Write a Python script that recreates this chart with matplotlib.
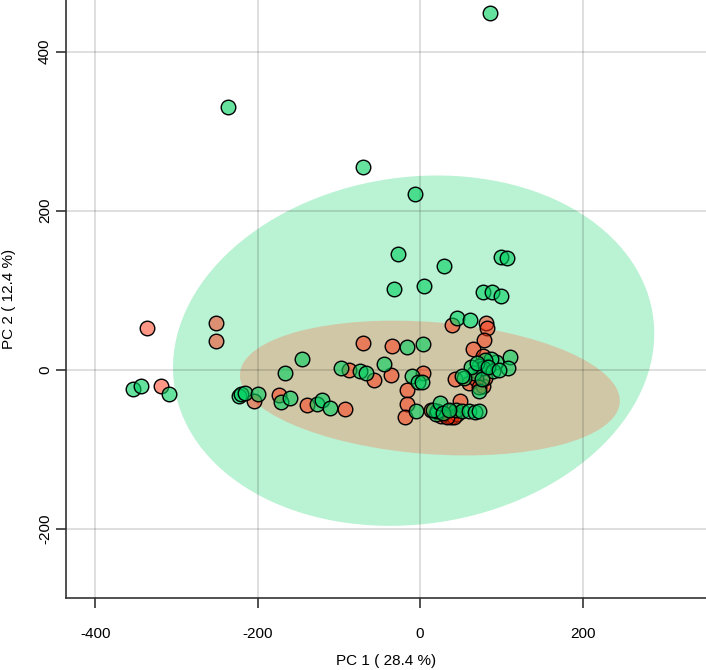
import numpy as np
import matplotlib.pyplot as plt
from matplotlib.patches import Ellipse
from matplotlib.colors import to_rgba

plt.rcParams['font.family'] = ['Liberation Sans', 'DejaVu Sans']
plt.rcParams['axes.unicode_minus'] = False

# PCA scores, group 1 (green)
green_x = [86, -237, -70, -6, -27, 29, -32, 5, 100, 107, 78, 89, 100,
           -353, -344, -309,
           -223, -220, -216, -199, -171, -160, -166, -145,
           -127, -121, -111,
           -98, -74, -67, -44, -16, 3,
           -10, -3, 2, -5,
           45, 62,
           111, 108, 94, 87, 80, 73, 78, 90, 66, 63, 54, 51, 73, 76, 70, 84, 97,
           19, 21, 16, 24, 44, 52, 60, 67, 73, 28, 35]
green_y = [449, 330, 255, 221, 146, 131, 102, 105, 142, 141, 98, 98, 93,
           -24, -20, -31,
           -33, -31, -29, -30, -40, -36, -4, 13,
           -43, -38, -48,
           2, -2, -4, 7, 29, 32,
           -8, -16, -15, -52,
           65, 62,
           16, 2, 10, 13, 12, 5, 2, -2, -4, 4, -10, -8, -27, -12, 8, 4, 0,
           -56, -52, -50, -42, -51, -52, -52, -53, -52, -54, -50]

# group 2 (red)
red_x = [-336, -319, -251, -251, -204, -174, -139, -92,
         -88, -57, -70, -36, -35, 4, -16, -16, -19, 14,
         39, 81, 82, 79, 65,
         43, 60, 77, 80, 78, 82, 69, 72,
         30, 36, 41, 34, 38, 45, 49, 26, 42, 33]
red_y = [52, -21, 59, 36, -39, -32, -44, -49,
         0, -13, 34, -7, 30, -4, -25, -43, -59, -50,
         56, 59, 53, 37, 26,
         -12, -17, -20, -10, 17, 5, -12, -22,
         -56, -58, -54, -52, -60, -56, -39, -58, -60, -60]

# confidence ellipses: centre, full width, full height, angle
green_ell = (-8, 24, 596, 436, 9)
red_ell = (12, -23, 469, 166, -4.5)

fig = plt.figure(figsize=(7.06, 6.70), dpi=100)
ax = fig.add_axes([0.0935, 0.1075, 0.9065, 0.8925])

ax.add_patch(Ellipse(green_ell[:2], green_ell[2], green_ell[3], angle=green_ell[4],
                     facecolor='#00d060', alpha=0.27, edgecolor='none', zorder=1))
ax.add_patch(Ellipse(red_ell[:2], red_ell[2], red_ell[3], angle=red_ell[4],
                     facecolor='#e79d79', alpha=0.5, edgecolor='none', zorder=1))

ax.grid(True, color='black', alpha=0.15, linewidth=1.2, zorder=2)
ax.set_axisbelow(False)

ax.scatter(red_x, red_y, s=110, facecolors=[to_rgba('#ff3010', 0.5)],
           edgecolors='black', linewidths=1.0, zorder=3)
ax.scatter(green_x, green_y, s=110, facecolors=[to_rgba('#00d060', 0.6)],
           edgecolors='black', linewidths=1.0, zorder=4)

ax.set_xlim(-436, 352)
ax.set_ylim(-287, 465)
ax.set_xticks([-400, -200, 0, 200])
ax.set_yticks([-200, 0, 200, 400])
for lab in ax.get_yticklabels():
    lab.set_rotation(90)
    lab.set_va('center')

ax.spines['top'].set_visible(False)
ax.spines['right'].set_visible(False)
for s in ['left', 'bottom']:
    ax.spines[s].set_color('#333333')
    ax.spines[s].set_linewidth(1.2)
ax.tick_params(direction='out', length=7, width=1.2, color='#333333',
               labelsize=11)
ax.tick_params(axis='x', pad=14)
ax.tick_params(axis='y', pad=3)

ax.set_xlabel('PC 1 ( 28.4 %)', fontsize=11, labelpad=9)
ax.set_ylabel('PC 2 ( 12.4 %)', fontsize=11)
ax.yaxis.set_label_coords(-0.078, 0.5)

fig.savefig('out.png', dpi=100)
